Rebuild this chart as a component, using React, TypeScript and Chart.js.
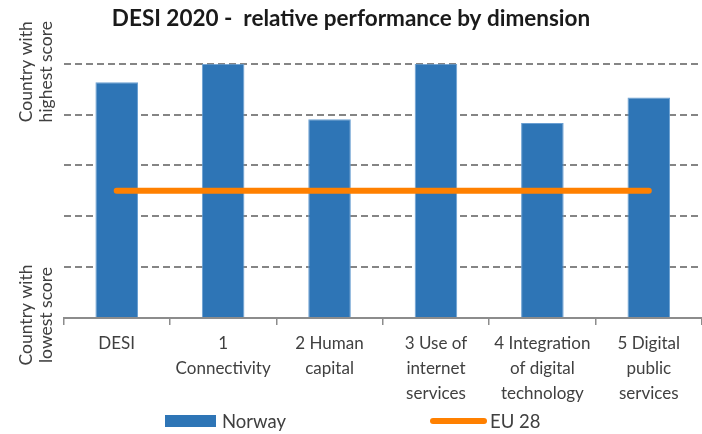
import React, { useEffect, useRef } from "react";
import { Chart, registerables } from "chart.js";

Chart.register(...registerables);

const chartTitle = "DESI 2020 -  relative performance by dimension";
const categories: string[][] = [
  ["DESI"],
  ["1", "Connectivity"],
  ["2 Human", "capital"],
  ["3 Use of", "internet", "services"],
  ["4 Integration", "of digital", "technology"],
  ["5 Digital", "public", "services"],
];
const norwayValues = [0.927, 1.0, 0.782, 1.0, 0.767, 0.867];
const eu28Values = [0.5, 0.5, 0.5, 0.5, 0.5, 0.5];
const seriesNames = ["Norway", "EU 28"];
const yTopLabel = ["Country with", "highest score"];
const yBottomLabel = ["Country with", "lowest score"];

const FONT = "Lato, 'Open Sans', sans-serif";
const BLUE = "#2E75B6";
const ORANGE = "#FF8000";
const TEXT = "#404040";

const sidePlugin = {
  id: "sideLabels",
  afterDraw(chart: any) {
    const { ctx } = chart;
    const y = chart.scales.y;
    const topC = y.getPixelForValue(1) + 8;
    const botC = y.getPixelForValue(0) - 3;
    ctx.save();
    // title
    ctx.fillStyle = "#1a1a1a";
    ctx.font = `bold 22.5px ${FONT}`;
    ctx.textAlign = "center";
    ctx.textBaseline = "middle";
    ctx.fillText(chartTitle, 351, 19);

    ctx.fillStyle = TEXT;
    ctx.font = `17.5px ${FONT}`;
    const draw = (lines: string[], cy: number) => {
      lines.forEach((t, i) => {
        ctx.save();
        ctx.translate(26 + i * 20, cy);
        ctx.rotate(-Math.PI / 2);
        ctx.fillText(t, 0, 0);
        ctx.restore();
      });
    };
    draw(yTopLabel, topC);
    draw(yBottomLabel, botC);

    // legend
    const ds = chart.data.datasets;
    const ly = 421;
    ctx.font = `18.5px ${FONT}`;
    ctx.textAlign = "left";
    ctx.fillStyle = ds[0].backgroundColor;
    ctx.fillRect(165, ly - 6, 51, 12);
    ctx.fillStyle = TEXT;
    ctx.fillText(ds[0].label, 222, ly + 1);
    ctx.strokeStyle = ds[1].borderColor;
    ctx.lineWidth = 6;
    ctx.lineCap = "round";
    ctx.beginPath();
    ctx.moveTo(433, ly);
    ctx.lineTo(484, ly);
    ctx.stroke();
    ctx.fillText(ds[1].label, 490, ly + 1);
    ctx.restore();
  },
};

export default function App() {
  const ref = useRef<HTMLCanvasElement>(null);
  useEffect(() => {
    if (!ref.current) return;
    const chart = new Chart(ref.current, {
      type: "bar",
      data: {
        labels: categories,
        datasets: [
          {
            type: "bar",
            label: seriesNames[0],
            data: norwayValues,
            backgroundColor: BLUE,
            borderColor: "#6A9FD2",
            borderWidth: 1,
            barPercentage: 0.4,
            categoryPercentage: 1.0,
            order: 2,
          },
          {
            type: "line",
            label: seriesNames[1],
            data: eu28Values,
            borderColor: ORANGE,
            backgroundColor: ORANGE,
            borderWidth: 6,
            borderCapStyle: "round",
            pointRadius: 0,
            order: 1,
          } as any,
        ],
      },
      options: {
        animation: false,
        responsive: false,
        devicePixelRatio: 1,
        layout: { padding: { left: 63.5, right: -3.5, top: 63.7, bottom: 0 } },
        plugins: {
          legend: { display: false },
          tooltip: { enabled: false },
          title: { display: false },
        },
        scales: {
          x: {
            grid: {
              display: true,
              drawOnChartArea: false,
              drawTicks: true,
              tickLength: 7,
              color: "#8c8c8c",
              lineWidth: 1.5,
            },
            border: { display: true, color: "#8c8c8c", width: 2 },
            ticks: {
              color: TEXT,
              padding: 6,
              maxRotation: 0,
              autoSkip: false,
              font: { family: FONT, size: 17, lineHeight: "25px" },
            },
            afterFit: (s: any) => {
              s.height = 116;
            },
          },
          y: {
            min: 0,
            max: 1,
            ticks: { display: false, stepSize: 0.2 },
            grid: {
              drawTicks: false,
              color: (c: any) => (c.tick && c.tick.value === 0 ? "rgba(0,0,0,0)" : "#858585"),
              lineWidth: 2,
            },
            border: { display: false, dash: [7, 4] },
            afterFit: (s: any) => {
              s.width = 0;
            },
          },
        },
      },
      plugins: [sidePlugin],
    });
    return () => chart.destroy();
  }, []);
  return (
    <div style={{ position: "fixed", left: 0, top: 0, width: 702, height: 434, background: "#fff" }}>
      <canvas ref={ref} width={702} height={434} style={{ display: "block" }} />
    </div>
  );
}
